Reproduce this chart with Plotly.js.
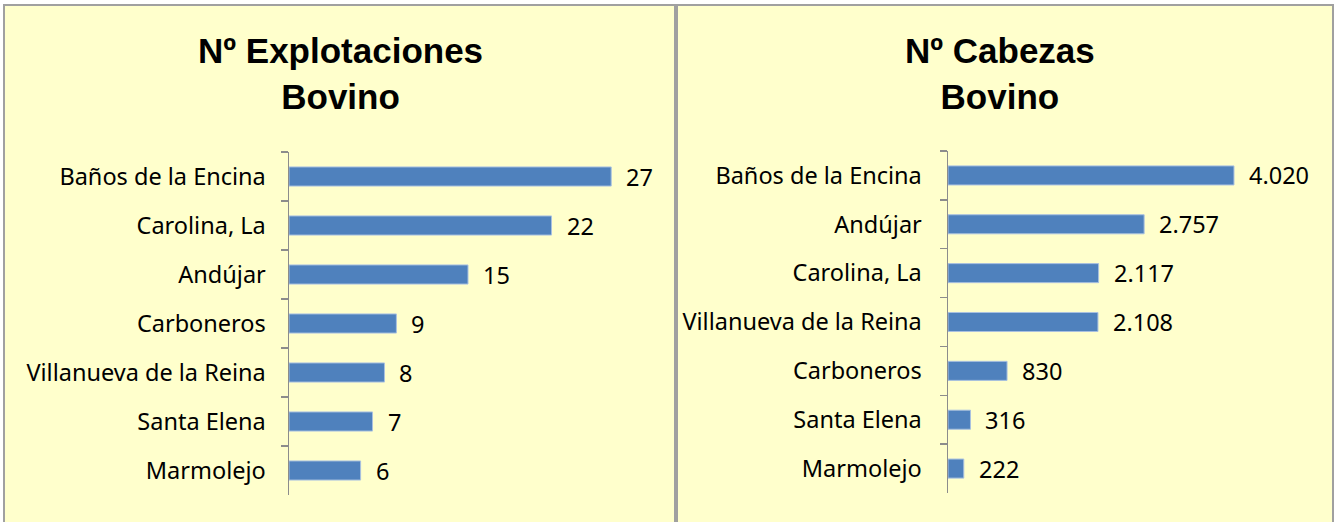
<!DOCTYPE html>
<html><head><meta charset="utf-8">
<script src="https://cdn.plot.ly/plotly-3.0.1.min.js"></script>
<style>html,body{margin:0;padding:0;background:#fff}#c{width:1336px;height:522px}</style>
</head><body><div id="c"></div>
<script>
const catsExpl = ["Baños de la Encina","Carolina, La","Andújar","Carboneros","Villanueva de la Reina","Santa Elena","Marmolejo"];
const valsExpl = [27,22,15,9,8,7,6];
const catsCab = ["Baños de la Encina","Andújar","Carolina, La","Villanueva de la Reina","Carboneros","Santa Elena","Marmolejo"];
const valsCab = [4020,2757,2117,2108,830,316,222];
const title1 = "Nº Explotaciones<br>Bovino";
const title2 = "Nº Cabezas<br>Bovino";

const W = 1336, H = 522;
const fmt = v => String(v).replace(/\B(?=(\d{3})+(?!\d))/g, '.');
const labelFont = {family: "'Noto Sans', Lato, sans-serif", size: 23.5, color: '#000'};
const barColor = '#4F81BD';

const traces = [
  {type:'bar', orientation:'h', x: valsExpl, y: catsExpl, xaxis:'x', yaxis:'y',
   marker:{color:barColor, line:{color:'#A9C1E0', width:1}}, hoverinfo:'x+y'},
  {type:'bar', orientation:'h', x: valsCab, y: catsCab, xaxis:'x2', yaxis:'y2',
   marker:{color:barColor, line:{color:'#A9C1E0', width:1}}, hoverinfo:'x+y'}
];

const annotations = [];
catsExpl.forEach((c,i)=>annotations.push({x: valsExpl[i], y: c, xref:'x', yref:'y', text: fmt(valsExpl[i]),
  showarrow:false, xanchor:'left', xshift:13, font: labelFont}));
catsCab.forEach((c,i)=>annotations.push({x: valsCab[i], y: c, xref:'x2', yref:'y2', text: fmt(valsCab[i]),
  showarrow:false, xanchor:'left', xshift:13, font: labelFont}));
const titleFont = {family: "'Liberation Sans', Arial, sans-serif", size: 35, color:'#000', weight: 'bold'};
annotations.push({xref:'paper', yref:'paper', x: 340/W, y: 1-74/H, xanchor:'center', yanchor:'middle', text:'<b>'+title1+'</b>', showarrow:false, font:titleFont});
annotations.push({xref:'paper', yref:'paper', x: 1000/W, y: 1-74/H, xanchor:'center', yanchor:'middle', text:'<b>'+title2+'</b>', showarrow:false, font:titleFont});

const yax = (dom, standoff) => ({domain: dom, type:'category', autorange:'reversed', showline:true, linecolor:'#8C8C8C', linewidth:1.5,
  ticks:'outside', tickson:'boundaries', ticklen:7, tickwidth:1.5, tickcolor:'#8C8C8C', showgrid:false, zeroline:false,
  tickfont: labelFont, ticklabelstandoff: standoff, fixedrange:true});
const xax = (dom, rng, anchor) => ({domain: dom, range: rng, visible:false, showgrid:false, zeroline:false, anchor: anchor, fixedrange:true});

const layout = {
  width: W, height: H, margin:{l:0,r:0,t:0,b:0}, paper_bgcolor:'#fff', plot_bgcolor:'rgba(0,0,0,0)',
  showlegend:false, bargap:0.61,
  xaxis: xax([289/W, 647/W], [0,30], 'y'),
  yaxis: Object.assign(yax([1-495/H, 1-152/H], 17), {anchor:'x'}),
  xaxis2: xax([948/W, 1303.7/W], [0,5000], 'y2'),
  yaxis2: Object.assign(yax([1-493/H, 1-151/H], 20), {anchor:'x2'}),
  shapes: [
    {type:'rect', xref:'paper', yref:'paper', x0:4/W, x1:675/W, y0:-0.1, y1:1-5/H, fillcolor:'#FFFFCC', line:{color:'#A0A0A0', width:2}, layer:'below'},
    {type:'rect', xref:'paper', yref:'paper', x0:677/W, x1:1333/W, y0:-0.1, y1:1-5/H, fillcolor:'#FFFFCC', line:{color:'#A0A0A0', width:2}, layer:'below'}
  ],
  annotations: annotations
};
Plotly.newPlot('c', traces, layout, {displayModeBar:false, staticPlot:true});
</script></body></html>
